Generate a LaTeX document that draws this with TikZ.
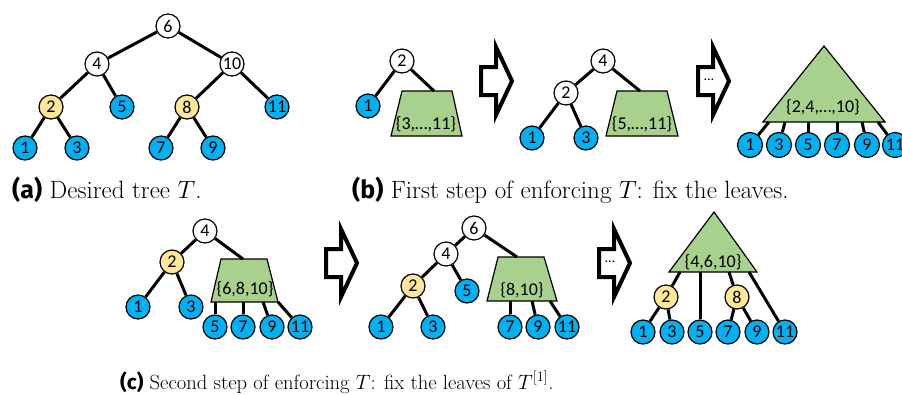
\documentclass[tikz,border=0pt]{standalone}
\usepackage{fontspec}
\newfontfamily\nodefont{Carlito}
\newfontfamily\capfont{Fira Sans}
\definecolor{leafblue}{HTML}{00B0F0}
\definecolor{inyellow}{HTML}{FFE699}
\definecolor{setgreen}{HTML}{A9D18E}
\tikzset{
  edge/.style={line width=3pt, black},
  nd/.style={circle, draw=black, line width=1.2pt, minimum size=24pt, inner sep=0pt, font=\nodefont\fontsize{18}{18}\selectfont},
  wn/.style={nd, fill=white},
  bn/.style={nd, fill=leafblue},
  yn/.style={nd, fill=inyellow},
  setshape/.style={draw=black, line width=1.2pt, fill=setgreen, line join=miter},
  setlabel/.style={font=\nodefont\fontsize{18}{18}\selectfont, inner sep=0pt},
  blockarrow/.style={draw=black, line width=4pt, fill=white, line join=miter, miter limit=10},
  dotslabel/.style={font=\nodefont\fontsize{14}{14}\selectfont, inner sep=0pt},
  caption/.style={anchor=base west, inner sep=0pt, font=\fontsize{25}{29}\selectfont},
  captionc/.style={anchor=base west, inner sep=0pt, font=\fontsize{20.6}{25}\selectfont}
}
\newcommand\blockarr[2]{%
  \draw[blockarrow] (#1,#2) ++(0,-14) -- ++(15,0) -- ++(0,-20) -- ++(16,34) -- ++(-16,34) -- ++(0,-20) -- ++(-15,0) -- cycle;}
\begin{document}
\begin{tikzpicture}[x=1pt,y=-1pt]
\useasboundingbox (0,0) rectangle (902,394);
\clip (0,0) rectangle (902,394);
\fill[white] (0,0) rectangle (902,394);

% ---------- (a) ----------
\node[wn] (a6) at (168,26) {6};
\node[wn] (a4) at (97,64) {4};
\node[wn] (a10) at (232,64) {10};
\node[yn] (a2) at (51,107) {2};
\node[bn] (a5) at (122,107) {5};
\node[yn] (a8) at (187,107) {8};
\node[bn] (a11) at (277,107) {11};
\node[bn] (a1) at (25,148) {1};
\node[bn] (a3) at (77,148) {3};
\node[bn] (a7) at (161,148) {7};
\node[bn] (a9) at (213,148) {9};
\draw[edge] (a6) -- (a4);
\draw[edge] (a6) -- (a10);
\draw[edge] (a4) -- (a2);
\draw[edge] (a4) -- (a5);
\draw[edge] (a10) -- (a8);
\draw[edge] (a10) -- (a11);
\draw[edge] (a2) -- (a1);
\draw[edge] (a2) -- (a3);
\draw[edge] (a8) -- (a7);
\draw[edge] (a8) -- (a9);

% ---------- (b) ----------
\draw[setshape] (402,91) -- (452,91) -- (462,136) -- (391,136) -- cycle;
\node[setlabel] (bs1) at (426,124) {\{3,…,11\}};
\coordinate (bt1) at (434,91);
\node[wn] (b2) at (402,61) {2};
\node[bn] (b1) at (368,106) {1};
\draw[edge] (b2) -- (b1);
\draw[edge] (b2) -- (bt1);

\blockarr{481}{81}

\draw[setshape] (617,91) -- (667,91) -- (678,136) -- (606,136) -- cycle;
\node[setlabel] (bs2) at (642,124) {\{5,…,11\}};
\coordinate (bt2) at (640,91);
\node[wn] (c4b) at (603,61) {4};
\node[wn] (c2b) at (566,93) {2};
\node[bn] (c1b) at (532,138) {1};
\node[bn] (c3b) at (586,138) {3};
\draw[edge] (c4b) -- (c2b);
\draw[edge] (c4b) -- (bt2);
\draw[edge] (c2b) -- (c1b);
\draw[edge] (c2b) -- (c3b);

\blockarr{698}{81}
\node[dotslabel] (bdots) at (709,80) {…};

\draw[setshape] (824,46) -- (885,122) -- (763,122) -- cycle;
\node[setlabel] (bs3) at (823,107) {\{2,4,…,10\}};
\coordinate (tb1) at (769,122);
\coordinate (tb3) at (785,122);
\coordinate (tb5) at (808,122);
\coordinate (tb7) at (837,122);
\coordinate (tb9) at (862,122);
\coordinate (tb11) at (878,122);
\node[bn, minimum size=25pt] (l1) at (750,145) {1};
\node[bn, minimum size=25pt] (l3) at (779,145) {3};
\node[bn, minimum size=25pt] (l5) at (808,145) {5};
\node[bn, minimum size=25pt] (l7) at (837,145) {7};
\node[bn, minimum size=25pt] (l9) at (867,145) {9};
\node[bn, minimum size=25pt] (l11) at (895,145) {11};
\draw[edge] (tb1) -- (l1);
\draw[edge] (tb3) -- (l3);
\draw[edge] (tb5) -- (l5);
\draw[edge] (tb7) -- (l7);
\draw[edge] (tb9) -- (l9);
\draw[edge] (tb11) -- (l11);

% ---------- captions (a), (b) ----------
\node[caption] (capa) at (12,198) {{\capfont\bfseries (a)} Desired tree $T$.};
\node[caption] (capb) at (352,198) {{\capfont\bfseries (b)} First step of enforcing $T$: fix the leaves.};

% ---------- (c) ----------
\draw[setshape] (221,259) -- (267,259) -- (278,302) -- (211,302) -- cycle;
\node[setlabel] (cs1) at (245,289) {\{6,8,10\}};
\coordinate (ct1) at (243,259);
\coordinate (cb5) at (215,302);
\coordinate (cb7) at (243,302);
\coordinate (cb9) at (263,302);
\coordinate (cb11) at (278,302);
\node[wn] (c4) at (205,231) {4};
\node[yn] (c2) at (172,262) {2};
\node[bn] (c1) at (138,307) {1};
\node[bn] (c3) at (191,307) {3};
\node[bn] (c5) at (215,327) {5};
\node[bn] (c7) at (243,327) {7};
\node[bn] (c9) at (272,327) {9};
\node[bn] (c11) at (300,327) {11};
\draw[edge] (c4) -- (c2);
\draw[edge] (c4) -- (ct1);
\draw[edge] (c2) -- (c1);
\draw[edge] (c2) -- (c3);
\draw[edge] (cb5) -- (c5);
\draw[edge] (cb7) -- (c7);
\draw[edge] (cb9) -- (c9);
\draw[edge] (cb11) -- (c11);

\blockarr{326}{263}

\draw[setshape] (498,257) -- (544,257) -- (557,301) -- (487,301) -- cycle;
\node[setlabel] (ds1) at (522,290) {\{8,10\}};
\coordinate (dt1) at (517,257);
\coordinate (db7) at (510,301);
\coordinate (db9) at (532,301);
\coordinate (db11) at (550,301);
\node[wn] (d6) at (474,228) {6};
\node[wn] (d4) at (446,254) {4};
\node[yn] (d2) at (413,286) {2};
\node[bn] (d5) at (467,291) {5};
\node[bn] (d1) at (381,327) {1};
\node[bn] (d3) at (433,327) {3};
\node[bn] (d7) at (510,327) {7};
\node[bn] (d9) at (538,327) {9};
\node[bn] (d11) at (567,327) {11};
\draw[edge] (d6) -- (d4);
\draw[edge] (d6) -- (dt1);
\draw[edge] (d4) -- (d2);
\draw[edge] (d4) -- (d5);
\draw[edge] (d2) -- (d1);
\draw[edge] (d2) -- (d3);
\draw[edge] (db7) -- (d7);
\draw[edge] (db9) -- (d9);
\draw[edge] (db11) -- (d11);

\blockarr{599}{263}
\node[dotslabel] (cdots) at (610,262) {…};

\draw[setshape] (714,212) -- (757,272) -- (669,272) -- cycle;
\node[setlabel] (es1) at (713,262) {\{4,6,10\}};
\coordinate (eb2) at (680,272);
\coordinate (eb5) at (700,272);
\coordinate (eb8) at (729,272);
\coordinate (eb11) at (749,272);
\node[yn] (e2) at (666,297) {2};
\node[yn] (e8) at (737,297) {8};
\node[bn] (e1) at (643,332) {1};
\node[bn] (e3) at (672,332) {3};
\node[bn] (e5) at (700,332) {5};
\node[bn] (e7) at (728,332) {7};
\node[bn] (e9) at (757,332) {9};
\node[bn] (e11) at (785,332) {11};
\draw[edge] (eb2) -- (e2);
\draw[edge] (eb5) -- (e5);
\draw[edge] (eb8) -- (e8);
\draw[edge] (eb11) -- (e11);
\draw[edge] (e2) -- (e1);
\draw[edge] (e2) -- (e3);
\draw[edge] (e8) -- (e7);
\draw[edge] (e8) -- (e9);

\node[captionc] (capc) at (120,389) {{\capfont\bfseries (c)} Second step of enforcing $T$: fix the leaves of $T^{[1]}$.};
\end{tikzpicture}
\end{document}
